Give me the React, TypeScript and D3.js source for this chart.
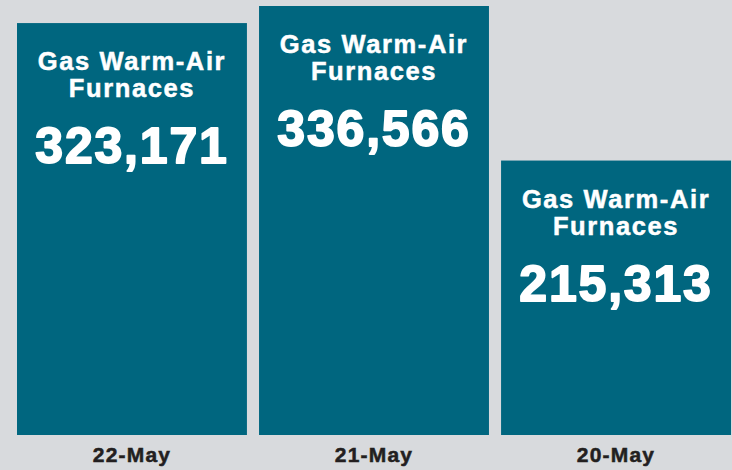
import React from "react";
import * as d3 from "d3";

const categories = ["22-May", "21-May", "20-May"];
const values = [323171, 336566, 215313];
const titleLines = ["Gas Warm-Air", "Furnaces"];

const W = 732;
const H = 470;
const BG = "#d8dadd";
const BAR = "#00667f";
const DARK = "#231f20";

export default function App() {
  const x = d3.scaleBand<string>().domain(categories).range([17, 731]).paddingInner(0.05).paddingOuter(0);
  const y = d3.scaleLinear().domain([0, d3.max(values) as number]).range([435, 6]);
  const fmt = d3.format(",");

  return (
    <svg width={W} height={H} style={{ position: "absolute", left: 0, top: 0, display: "block" }}>
      <rect x={0} y={0} width={W} height={H} fill={BG} />
      {categories.map((c, i) => {
        const x0 = x(c) as number;
        const bw = x.bandwidth();
        const top = y(values[i]);
        const cx = x0 + bw / 2;
        return (
          <g key={c}>
            <rect x={x0} y={top} width={bw} height={y(0) - top} fill={BAR} />
            {titleLines.map((t, j) => (
              <text
                key={t}
                x={cx}
                y={top + 47 + j * 27}
                textAnchor="middle"
                fill="#ffffff"
                stroke="#ffffff"
                strokeWidth={0.5}
                fontFamily="'Liberation Sans', Arial, sans-serif"
                fontWeight="bold"
                fontSize={25.5}
                letterSpacing={1.6}
              >
                {t}
              </text>
            ))}
            <text
              x={cx}
              y={top + 140}
              textAnchor="middle"
              fill="#ffffff"
              stroke="#ffffff"
              strokeWidth={1.8}
              strokeLinejoin="round"
              fontFamily="'Liberation Sans', Arial, sans-serif"
              fontWeight="bold"
              fontSize={50}
              letterSpacing={1.8}
            >
              {fmt(values[i])}
            </text>
            <text
              x={cx}
              y={462}
              textAnchor="middle"
              fill={DARK}
              stroke={DARK}
              strokeWidth={0.5}
              fontFamily="'Liberation Sans', Arial, sans-serif"
              fontWeight="bold"
              fontSize={21}
              letterSpacing={1.2}
            >
              {c}
            </text>
          </g>
        );
      })}
    </svg>
  );
}
